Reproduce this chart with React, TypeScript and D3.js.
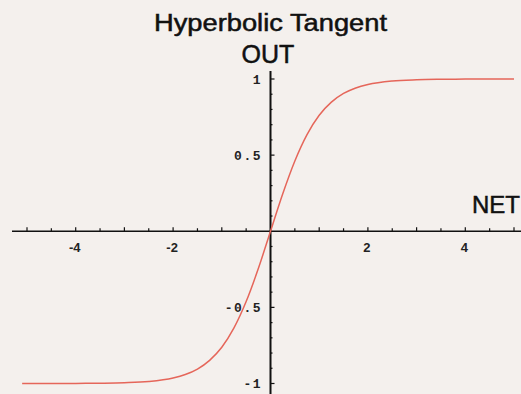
import React from "react";
import * as d3 from "d3";

// Sampled points of the tanh activation curve
const netValues = [-5.1, -4.5, -4, -3.5, -3, -2.5, -2, -1.75, -1.5, -1.25, -1, -0.75, -0.5, -0.25, 0, 0.25, 0.5, 0.75, 1, 1.25, 1.5, 1.75, 2, 2.5, 3, 3.5, 4, 4.5, 5];
const outValues = [-1.0, -0.9998, -0.9993, -0.998, -0.995, -0.987, -0.964, -0.941, -0.905, -0.848, -0.762, -0.635, -0.462, -0.245, 0, 0.245, 0.462, 0.635, 0.762, 0.848, 0.905, 0.941, 0.964, 0.987, 0.995, 0.998, 0.9993, 0.9998, 1.0];

const xTickLabels = [-4, -2, 2, 4];
const yTickLabels = [-1, -0.5, 0.5, 1];

const W = 521;
const H = 394;

export default function App() {
  const x = d3.scaleLinear().domain([-4, 4]).range([75.7, 465.3]);
  const y = d3.scaleLinear().domain([-1, 1]).range([383.5, 79]);
  const x0 = x(0);
  const y0 = y(0);

  const points = netValues.map((v, i) => [v, outValues[i]] as [number, number]);
  const line = d3
    .line<[number, number]>()
    .x((d) => x(d[0]))
    .y((d) => y(d[1]))
    .curve(d3.curveMonotoneX);

  const xMinor = d3.range(-10, 11).map((k) => k * 0.5).filter((v) => v !== 0);
  const yMinor = d3.range(-10, 11).map((k) => k * 0.1).filter((v) => Math.abs(v) > 1e-9);

  const labelFont = "'Liberation Mono', 'DejaVu Sans Mono', monospace";
  const titleFont = "'Liberation Sans', Arial, sans-serif";

  return (
    <svg
      width={W}
      height={H}
      style={{ position: "fixed", left: 0, top: 0, background: "#f4f0ed" }}
    >
      <rect x={0} y={0} width={W} height={H} fill="#f4f0ed" />

      {/* titles */}
      <text
        x={270.5}
        y={31}
        textAnchor="middle"
        fontFamily={titleFont}
        fontSize={23}
        textLength={233}
        lengthAdjust="spacingAndGlyphs"
        fill="#111"
        stroke="#111"
        strokeWidth={0.5}
      >
        Hyperbolic Tangent
      </text>
      <text x={268} y={63} textAnchor="middle" fontFamily={titleFont} fontSize={25} fill="#111" stroke="#111" strokeWidth={0.5}>
        OUT
      </text>
      <text x={472} y={213} fontFamily={titleFont} fontSize={24} fill="#111" stroke="#111" strokeWidth={0.5}>
        NET
      </text>

      {/* x axis */}
      <line x1={12} x2={W} y1={y0} y2={y0} stroke="#111" strokeWidth={1.6} />
      {xMinor.map((v) => (
        <line
          key={"xm" + v}
          x1={x(v)}
          x2={x(v)}
          y1={y0}
          y2={y0 - (Number.isInteger(v) ? 4 : 3)}
          stroke="#111"
          strokeWidth={1.2}
        />
      ))}
      {xTickLabels.map((v) => (
        <text
          key={"xl" + v}
          x={x(v) - 1}
          y={252}
          textAnchor="middle"
          fontFamily={titleFont}
          fontWeight="bold"
          fontSize={13}
          fill="#222"
        >
          {v < 0 ? "-" + Math.abs(v) : String(v)}
        </text>
      ))}

      {/* y axis */}
      <line x1={x0} x2={x0} y1={71} y2={H} stroke="#111" strokeWidth={2} />
      {yMinor.map((v) => (
        <line
          key={"ym" + v.toFixed(1)}
          x1={x0}
          x2={x0 + (Math.abs(Math.abs(v) - 0.5) < 1e-9 || Math.abs(Math.abs(v) - 1) < 1e-9 ? 4 : 2)}
          y1={y(v)}
          y2={y(v)}
          stroke="#111"
          strokeWidth={1.2}
        />
      ))}
      {yTickLabels.map((v) => (
        <text
          key={"yl" + v}
          x={262}
          y={y(v) + 4.5}
          textAnchor="end"
          fontFamily={labelFont}
          fontWeight="bold"
          fontSize={13}
          letterSpacing={1.5}
          fill="#222"
        >
          {v < 0 ? "-" + Math.abs(v) : String(v)}
        </text>
      ))}

      {/* curve */}
      <path d={line(points) || ""} fill="none" stroke="#e5665a" strokeWidth={1.5} />
    </svg>
  );
}
